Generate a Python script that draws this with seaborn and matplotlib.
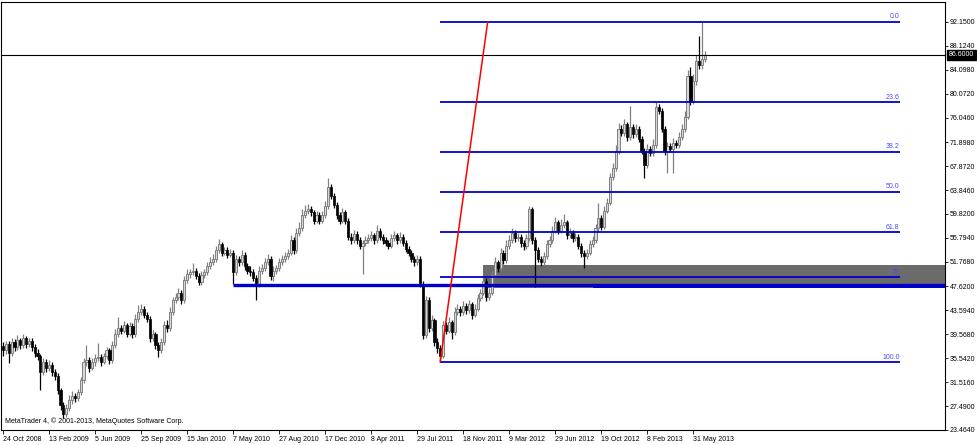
import seaborn as sns
import matplotlib.pyplot as plt
from matplotlib import transforms
import numpy as np

# weekly bars, 24 Oct 2008 .. early Jul 2013
opens = [37.6, 36.9, 37.9, 36.5, 38.2, 37.4, 38.6, 37.7, 38.9, 37.9,
         38.4, 37.4, 36.5, 35.9, 33.2, 34.9, 33.9, 34.4, 33.2, 32.5,
         30.2, 27.6, 26.1, 27.1, 28.5, 29.2, 28.8, 29.8, 31.8, 34.9,
         35.2, 33.9, 34.9, 35.5, 35.7, 34.9, 35.9, 36.9, 35.2, 37.7,
         39.7, 40.6, 40.2, 41.1, 39.7, 40.9, 39.6, 42.2, 43.3, 43.9,
         42.9, 42.2, 38.9, 39.6, 37.7, 36.9, 38.2, 41.1, 40.6, 43.3,
         45.3, 45.8, 46.6, 45.3, 48.7, 49.7, 50.0, 50.3, 49.3, 48.3,
         49.5, 50.0, 51.0, 51.7, 52.3, 53.7, 54.7, 53.3, 53.7, 53.0,
         53.3, 50.0, 52.3, 51.7, 53.0, 51.0, 50.3, 50.0, 49.0, 48.0,
         50.3, 50.7, 51.7, 52.3, 49.3, 50.3, 50.7, 51.7, 52.3, 52.8,
         53.3, 55.4, 53.7, 56.7, 57.4, 59.6, 60.4, 60.7, 60.1, 58.7,
         59.6, 58.7, 59.7, 61.1, 64.4, 62.9, 61.3, 59.6, 58.7, 60.1,
         58.7, 56.0, 55.4, 56.4, 55.4, 54.5, 54.9, 55.4, 55.7, 56.2,
         55.4, 57.0, 56.0, 55.4, 55.0, 54.5, 55.7, 56.2, 55.4, 56.0,
         55.0, 54.0, 53.3, 52.3, 51.7, 52.3, 48.1, 39.4, 45.3, 40.6,
         41.9, 38.2, 37.2, 36.0, 41.1, 40.2, 41.6, 39.9, 43.3, 43.9,
         43.3, 44.3, 43.6, 44.6, 42.9, 43.9, 45.6, 46.6, 48.6, 45.8,
         46.6, 49.5, 51.7, 50.7, 53.3, 52.0, 54.5, 55.4, 56.7, 55.7,
         56.0, 54.9, 54.4, 55.7, 60.7, 55.4, 53.7, 52.3, 51.7, 52.8,
         54.7, 55.4, 57.0, 58.4, 57.0, 58.0, 58.4, 56.2, 56.7, 55.7,
         56.0, 54.5, 53.3, 52.7, 53.3, 54.7, 55.4, 57.4, 59.1, 57.7,
         60.4, 61.7, 66.1, 67.5, 70.5, 74.2, 73.5, 74.9, 72.8, 74.5,
         73.3, 74.2, 72.5, 70.5, 68.1, 70.8, 70.1, 71.5, 77.9, 77.2,
         74.2, 70.5, 71.2, 70.8, 71.8, 71.5, 72.8, 74.2, 76.2, 83.1,
         78.9, 82.2, 85.6, 84.9, 85.9]

highs = [38.3, 38.5, 38.4, 39.0, 38.8, 39.5, 39.0, 39.6, 39.3, 39.0,
         38.9, 38.0, 37.1, 36.3, 35.6, 35.4, 35.3, 34.9, 33.8, 33.0,
         30.6, 28.1, 27.8, 29.3, 30.1, 29.7, 30.3, 32.4, 35.5, 37.7,
         35.8, 35.6, 36.2, 38.1, 36.2, 36.5, 37.5, 37.3, 38.4, 40.5,
         42.4, 41.2, 41.8, 41.5, 41.6, 41.4, 43.0, 44.5, 44.6, 44.3,
         43.4, 42.7, 40.3, 40.0, 38.2, 38.9, 41.8, 42.0, 44.1, 45.9,
         46.5, 47.3, 47.0, 49.3, 50.5, 50.6, 51.6, 50.8, 49.9, 50.2,
         50.6, 51.7, 52.5, 53.1, 54.4, 55.6, 55.1, 54.3, 54.2, 54.0,
         53.8, 52.9, 52.8, 53.7, 53.4, 51.6, 51.0, 50.5, 49.6, 51.1,
         51.4, 52.4, 53.1, 52.7, 51.0, 51.3, 52.4, 53.0, 53.5, 54.0,
         56.3, 55.9, 57.5, 58.4, 60.6, 61.3, 61.5, 61.1, 60.5, 60.4,
         60.1, 60.4, 62.0, 65.8, 64.9, 63.4, 61.8, 60.1, 60.8, 60.5,
         59.2, 56.6, 57.1, 56.9, 56.0, 55.5, 56.1, 56.4, 57.0, 56.6,
         57.9, 57.4, 56.5, 55.9, 55.5, 56.4, 57.0, 56.7, 56.8, 56.4,
         55.4, 54.5, 53.7, 52.8, 53.0, 52.7, 48.5, 46.1, 45.8, 42.8,
         42.3, 39.0, 37.8, 41.8, 41.6, 42.4, 42.0, 44.1, 44.6, 44.3,
         45.2, 44.8, 45.3, 45.0, 44.6, 46.3, 47.2, 49.3, 49.0, 47.4,
         50.2, 52.6, 52.1, 54.1, 53.8, 55.4, 56.2, 57.5, 57.1, 56.7,
         56.5, 55.4, 56.4, 61.2, 61.0, 55.9, 54.2, 52.8, 53.4, 55.5,
         56.1, 57.8, 59.3, 58.8, 58.9, 59.9, 58.8, 57.4, 57.1, 56.6,
         56.4, 54.9, 53.8, 54.0, 55.4, 56.1, 58.2, 61.7, 59.6, 61.2,
         62.5, 66.8, 68.4, 71.4, 75.1, 74.8, 75.8, 75.3, 78.0, 75.0,
         75.0, 74.6, 73.0, 71.0, 71.6, 71.3, 72.4, 78.6, 78.4, 77.6,
         74.7, 72.0, 71.7, 72.6, 72.3, 73.6, 75.0, 77.1, 84.0, 84.6,
         83.3, 86.5, 89.8, 92.15, 87.3]

lows = [35.9, 36.2, 34.8, 36.0, 36.8, 36.9, 37.1, 37.3, 37.2, 37.4,
        36.8, 35.8, 35.3, 30.2, 32.8, 33.3, 33.4, 32.6, 31.9, 29.6,
        26.9, 25.5, 25.6, 26.6, 27.8, 28.2, 28.3, 29.3, 31.4, 34.2,
        33.3, 33.5, 34.3, 35.0, 34.2, 34.5, 35.4, 34.6, 34.8, 37.2,
        39.2, 39.6, 39.8, 39.1, 39.3, 39.0, 39.2, 41.7, 42.8, 42.3,
        41.6, 38.3, 38.4, 37.1, 35.7, 36.4, 37.8, 40.0, 40.2, 42.9,
        44.8, 45.3, 44.7, 44.9, 48.2, 49.1, 49.5, 48.8, 47.8, 47.9,
        49.0, 49.6, 50.5, 51.3, 51.8, 53.2, 52.7, 52.9, 52.4, 52.6,
        48.1, 49.6, 51.1, 51.3, 50.4, 49.7, 49.4, 48.5, 45.3, 47.6,
        49.8, 50.2, 51.2, 48.7, 48.5, 49.8, 50.3, 51.2, 51.8, 52.3,
        52.9, 53.1, 53.3, 56.1, 57.0, 59.1, 59.8, 59.5, 58.1, 58.3,
        58.1, 58.3, 59.2, 60.7, 62.3, 60.8, 59.0, 58.1, 58.3, 58.1,
        55.4, 54.8, 55.0, 54.8, 53.9, 49.8, 54.4, 54.9, 55.2, 54.8,
        55.0, 55.4, 54.8, 54.4, 53.9, 54.1, 55.3, 54.8, 55.0, 54.5,
        53.5, 52.8, 51.7, 51.1, 51.3, 47.6, 38.8, 38.9, 40.0, 40.1,
        37.6, 36.5, 34.9, 35.6, 39.6, 39.8, 38.8, 39.5, 42.8, 42.7,
        42.9, 43.0, 43.2, 42.2, 42.5, 43.5, 45.1, 46.2, 45.1, 45.3,
        46.2, 49.0, 50.1, 50.3, 51.4, 51.6, 54.0, 55.0, 55.1, 55.2,
        54.3, 53.8, 54.0, 55.2, 54.8, 47.5, 51.7, 51.1, 51.3, 52.3,
        54.2, 54.9, 56.6, 56.4, 56.6, 57.5, 55.6, 55.8, 55.1, 55.3,
        53.9, 52.6, 50.8, 52.2, 52.9, 54.2, 55.0, 56.9, 57.1, 57.3,
        60.0, 61.3, 65.6, 67.1, 70.0, 72.9, 73.0, 72.1, 72.3, 72.6,
        72.8, 71.9, 69.9, 65.8, 67.6, 69.5, 69.6, 71.0, 76.6, 73.6,
        69.8, 66.8, 70.2, 66.8, 70.9, 71.0, 72.3, 73.7, 75.8, 78.2,
        78.3, 81.6, 84.2, 84.3, 85.4]

closes = [36.9, 37.9, 36.5, 38.2, 37.4, 38.6, 37.7, 38.9, 37.9, 38.4,
          37.4, 36.5, 35.9, 33.2, 34.9, 33.9, 34.4, 33.2, 32.5, 30.2,
          27.6, 26.1, 27.1, 28.5, 29.2, 28.8, 29.8, 31.8, 34.9, 35.2,
          33.9, 34.9, 35.5, 35.7, 34.9, 35.9, 36.9, 35.2, 37.7, 39.7,
          40.6, 40.2, 41.1, 39.7, 40.9, 39.6, 42.2, 43.3, 43.9, 42.9,
          42.2, 38.9, 39.6, 37.7, 36.9, 38.2, 41.1, 40.6, 43.3, 45.3,
          45.8, 46.6, 45.3, 48.7, 49.7, 50.0, 50.3, 49.3, 48.3, 49.5,
          50.0, 51.0, 51.7, 52.3, 53.7, 54.7, 53.3, 53.7, 53.0, 53.3,
          50.0, 52.3, 51.7, 53.0, 51.0, 50.3, 50.0, 49.0, 48.0, 50.3,
          50.7, 51.7, 52.3, 49.3, 50.3, 50.7, 51.7, 52.3, 52.8, 53.3,
          55.4, 53.7, 56.7, 57.4, 59.6, 60.4, 60.7, 60.1, 58.7, 59.6,
          58.7, 59.7, 61.1, 64.4, 62.9, 61.3, 59.6, 58.7, 60.1, 58.7,
          56.0, 55.4, 56.4, 55.4, 54.5, 54.9, 55.4, 55.7, 56.2, 55.4,
          57.0, 56.0, 55.4, 55.0, 54.5, 55.7, 56.2, 55.4, 56.0, 55.0,
          54.0, 53.3, 52.3, 51.7, 52.3, 48.1, 39.4, 45.3, 40.6, 41.9,
          38.2, 37.2, 36.0, 41.1, 40.2, 41.6, 39.9, 43.3, 43.9, 43.3,
          44.3, 43.6, 44.6, 42.9, 43.9, 45.6, 46.6, 48.6, 45.8, 46.6,
          49.5, 51.7, 50.7, 53.3, 52.0, 54.5, 55.4, 56.7, 55.7, 56.0,
          54.9, 54.4, 55.7, 60.7, 55.4, 53.7, 52.3, 51.7, 52.8, 54.7,
          55.4, 57.0, 58.4, 57.0, 58.0, 58.4, 56.2, 56.7, 55.7, 56.0,
          54.5, 53.3, 52.7, 53.3, 54.7, 55.4, 57.4, 59.1, 57.7, 60.4,
          61.7, 66.1, 67.5, 70.5, 74.2, 73.5, 74.9, 72.8, 74.5, 73.3,
          74.2, 72.5, 70.5, 68.1, 70.8, 70.1, 71.5, 77.9, 77.2, 74.2,
          70.5, 71.2, 70.8, 71.8, 71.5, 72.8, 74.2, 76.2, 83.1, 78.9,
          82.2, 85.6, 84.9, 85.9, 86.6]

date_bars = [0, 16, 32, 48, 64, 80, 96, 112, 128, 144, 160, 176, 192, 208, 224, 240]
date_labels = ["24 Oct 2008", "13 Feb 2009", "5 Jun 2009", "25 Sep 2009",
               "15 Jan 2010", "7 May 2010", "27 Aug 2010", "17 Dec 2010",
               "8 Apr 2011", "29 Jul 2011", "18 Nov 2011", "9 Mar 2012",
               "29 Jun 2012", "19 Oct 2012", "8 Feb 2013", "31 May 2013"]

price_ticks = [92.15, 88.124, 84.098, 80.072, 76.046, 71.898, 67.872, 63.846, 59.82,
               55.794, 51.768, 47.62, 43.594, 39.568, 35.542, 31.516, 27.49, 23.464]

fib_levels = [0.0, 23.6, 38.2, 50.0, 61.8, 75.0, 100.0]
fib_labels = ["0.0", "23.6", "38.2", "50.0", "61.8", "75", "100.0"]
fib_high = 92.15
fib_low = 34.9
fib_start_bar = 152
fib_end_bar = 312
fib_anchor_bar = 168.5

last_price = 86.6
support_price = 47.8
support_start_bar = 80
support2_price = 47.55
support2_start_bar = 205
zone_bottom = 47.3
zone_top = 51.2
zone_start_bar = 167

sns.set_theme(style="white")
plt.rcParams['font.family'] = ['Liberation Sans', 'DejaVu Sans']

fig = plt.figure(figsize=(9.77, 4.45), dpi=100)
ax = fig.add_axes([1 / 977, 15 / 445, 944 / 977, 428 / 445])
ax.set_facecolor("white")

x_right = 327.5
ax.set_xlim(-0.7, x_right)
ax.set_ylim(23.464, 95.5)

# zone + horizontal supports
ax.fill_between([zone_start_bar, x_right], zone_bottom, zone_top, color="#6b6b6b", lw=0, zorder=0.5)
ax.hlines(support_price, support_start_bar, x_right, color="#0000cc", lw=2.4, zorder=3)
ax.hlines(support2_price, support2_start_bar, x_right, color="#0000cc", lw=1.4, zorder=3)

# candles
bars = np.arange(len(closes))
o = np.array(opens)
c = np.array(closes)
h = np.array(highs)
l = np.array(lows)
up = c >= o
body_low = np.minimum(o, c)
body_h = np.maximum(np.abs(c - o), 0.12)

ax.vlines(bars[up], l[up], h[up], color="#808080", lw=0.9, zorder=2)
ax.vlines(bars[~up], l[~up], h[~up], color="black", lw=0.9, zorder=2)
ax.bar(bars[up], body_h[up], bottom=body_low[up], width=0.75,
       color="#d8d8d8", edgecolor="#808080", linewidth=0.7, zorder=2.2)
ax.bar(bars[~up], body_h[~up], bottom=body_low[~up], width=0.75,
       color="black", edgecolor="black", linewidth=0.5, zorder=2.2)

# fibonacci
span = fib_high - fib_low
for lvl, txt in zip(fib_levels, fib_labels):
    p = fib_high - lvl / 100 * span
    ax.hlines(p, fib_start_bar, fib_end_bar, color="#0000cc", lw=1.3, zorder=3)
    ax.text(fib_end_bar - 0.3, p + 0.25, txt, fontsize=5, color="#4a4aff",
            ha="right", va="bottom", zorder=4)
sns.lineplot(x=[fib_start_bar, fib_anchor_bar], y=[fib_low, fib_high], ax=ax,
             color="red", lw=1.1, zorder=3.5)

# current price line
ax.axhline(last_price, color="black", lw=0.8, zorder=3)
trans = transforms.blended_transform_factory(ax.transAxes, ax.transData)
ax.text(1.004, last_price, "86.6000", transform=trans, fontsize=5, color="white",
        ha="left", va="center", zorder=6,
        bbox=dict(boxstyle="square,pad=0.25", fc="black", ec="black"))

# axes styling
for s in ax.spines.values():
    s.set_color("black")
    s.set_linewidth(0.8)
    s.set_visible(True)

ax.yaxis.tick_right()
ax.set_yticks(price_ticks)
ax.set_yticklabels([f"{v:.4f}" for v in price_ticks])
ax.tick_params(axis="y", which="both", right=True, left=False, length=2, width=0.6,
               pad=1.5, labelsize=5, colors="black", direction="out")

ax.set_xticks(date_bars)
ax.set_xticklabels(date_labels, ha="left")
ax.tick_params(axis="x", which="both", bottom=True, length=3, width=0.6,
               pad=1, labelsize=5, colors="black", direction="out")
ax.grid(False)

ax.text(0.004, 0.012, "MetaTrader 4, \u00a9 2001-2013, MetaQuotes Software Corp.",
        transform=ax.transAxes, fontsize=5, color="black", ha="left", va="bottom")

fig.savefig("out.png", dpi=100, facecolor="white")
